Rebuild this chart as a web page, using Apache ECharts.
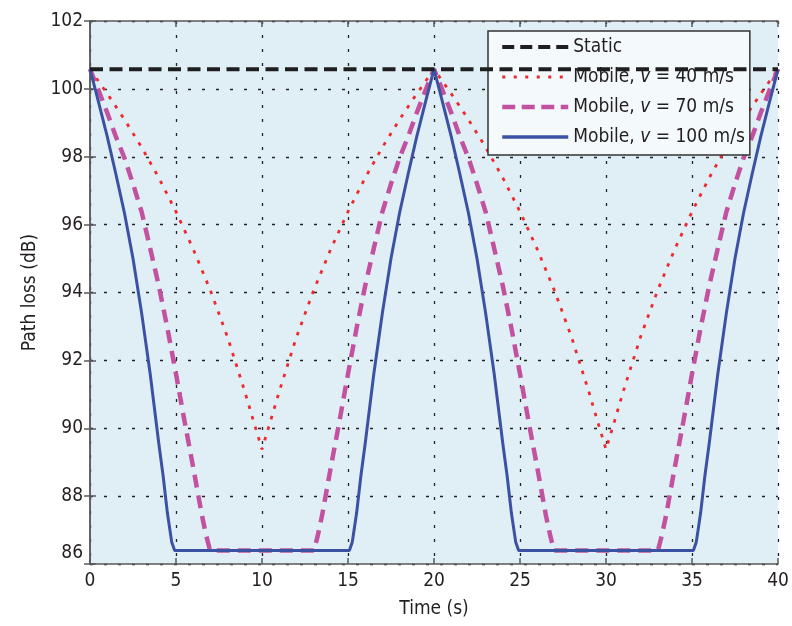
<!DOCTYPE html>
<html>
<head>
<meta charset="utf-8">
<script src="https://cdn.jsdelivr.net/npm/echarts@6/dist/echarts.min.js"></script>
<style>
html,body{margin:0;padding:0;background:#fff;}
#c{width:792px;height:626px;}
</style>
</head>
<body>
<div id="c"></div>
<script>
// ---- data ----
const xTicks = [0, 5, 10, 15, 20, 25, 30, 35, 40];
const yTicks = [86, 88, 90, 92, 94, 96, 98, 100, 102];

const staticT = [0, 40];
const staticV = [100.58, 100.58];

const redT = [0,1,2,3,4,5,6,7,8,9,9.5,10,10.5,11,12,13,14,15,16,17,18,19,20,
              21,22,23,24,25,26,27,28,29,29.5,30,30.5,31,32,33,34,35,36,37,38,39,40];
const redV = [100.58,99.86,99.1,98.28,97.38,96.38,95.28,94.06,92.68,91.08,90.22,89.38,90.22,91.08,92.68,94.06,95.28,96.38,97.38,98.28,99.1,99.86,100.58,
              99.86,99.1,98.28,97.38,96.38,95.28,94.06,92.68,91.08,90.22,89.38,90.22,91.08,92.68,94.06,95.28,96.38,97.38,98.28,99.1,99.86,100.58];

const magT = [0,0.5,1,1.5,2,2.5,3,3.5,4,4.5,5,5.5,6,6.5,6.75,6.98,
              13.02,13.25,13.5,14,14.5,15,15.5,16,16.5,17,17.5,18,18.5,19,19.5,20,
              20.5,21,21.5,22,22.5,23,23.5,24,24.5,25,25.5,26,26.5,26.75,26.98,
              33.02,33.25,33.5,34,34.5,35,35.5,36,36.5,37,37.5,38,38.5,39,39.5,40];
const magV = [100.58,99.95,99.3,98.6,97.97,97.2,96.38,95.3,94.2,92.95,91.6,90.2,88.85,87.45,86.85,86.4,
              86.4,86.85,87.45,88.85,90.2,91.6,92.95,94.2,95.3,96.38,97.2,97.97,98.6,99.3,99.95,100.58,
              99.95,99.3,98.6,97.97,97.2,96.38,95.3,94.2,92.95,91.6,90.2,88.85,87.45,86.85,86.4,
              86.4,86.85,87.45,88.85,90.2,91.6,92.95,94.2,95.3,96.38,97.2,97.97,98.6,99.3,99.95,100.58];

const blueT = [0,0.5,1,1.5,2,2.5,3,3.5,4,4.25,4.5,4.75,4.92,
               15.08,15.25,15.5,15.75,16,16.5,17,17.5,18,18.5,19,19.5,20,
               20.5,21,21.5,22,22.5,23,23.5,24,24.25,24.5,24.75,24.92,
               35.08,35.25,35.5,35.75,36,36.5,37,37.5,38,38.5,39,39.5,40];
const blueV = [100.58,99.6,98.6,97.5,96.35,95.0,93.4,91.6,89.55,88.6,87.5,86.65,86.4,
               86.4,86.65,87.5,88.6,89.55,91.6,93.4,95.0,96.35,97.5,98.6,99.6,100.58,
               99.6,98.6,97.5,96.35,95.0,93.4,91.6,89.55,88.6,87.5,86.65,86.4,
               86.4,86.65,87.5,88.6,89.55,91.6,93.4,95.0,96.35,97.5,98.6,99.6,100.58];

const seriesNames = ['Static', 'Mobile40', 'Mobile70', 'Mobile100'];
const legendSpeeds = {Mobile40: '40', Mobile70: '70', Mobile100: '100'};

// ---- styles ----
const FONT = "'Liberation Sans Narrow', 'DejaVu Sans Condensed', 'Liberation Sans', sans-serif";
const TXT = '#231f20';
const zip = (a, b) => a.map((t, i) => [t, b[i]]);
const styles = {
  Static:    {color: '#1e1e1e', width: 4,   type: [13, 6.5]},
  Mobile40:  {color: '#ee2a2e', width: 2.8, type: [3.5, 7.5]},
  Mobile70:  {color: '#c2519f', width: 4.5, type: [13, 8]},
  Mobile100: {color: '#3b52a3', width: 3,   type: 'solid'}
};
const legendStyles = {
  Static:    {color: '#1e1e1e', width: 4,   type: [12, 6]},
  Mobile40:  {color: '#ee2a2e', width: 3,   type: [3, 8.5]},
  Mobile70:  {color: '#c2519f', width: 4.5, type: [13, 6.5]},
  Mobile100: {color: '#3b52a3', width: 3.5, type: 'solid'}
};
const zs = {Static: 5, Mobile40: 2, Mobile70: 3, Mobile100: 4};
const seriesData = {
  Static: zip(staticT, staticV), Mobile40: zip(redT, redV),
  Mobile70: zip(magT, magV), Mobile100: zip(blueT, blueV)
};

const axisLineStyle = {color: '#5a5a5a', width: 1.5};
const gridLine = {show: true, lineStyle: {color: '#222', width: 1.3, type: [3, 11]}};

const chart = echarts.init(document.getElementById('c'), null, {renderer: 'canvas'});
chart.setOption({
  backgroundColor: '#ffffff',
  animation: false,
  textStyle: {fontFamily: FONT},
  grid: {left: 90, top: 21, right: 14, bottom: 62, show: true,
         backgroundColor: '#e0eef6', borderWidth: 0},
  legend: {
    orient: 'vertical', left: 488, top: 31,
    data: seriesNames.map(n => ({name: n, lineStyle: legendStyles[n], itemStyle: {opacity: 0}})),
    itemWidth: 66, itemHeight: 14, itemGap: 6,
    padding: [4, 5, 6, 12],
    backgroundColor: '#f4f9fc', borderColor: '#333', borderWidth: 1.5,
    itemStyle: {opacity: 0},
    formatter: function (n) {
      if (n === 'Static') return '{n|Static}';
      return '{n|Mobile, }{i|v}{n| = ' + legendSpeeds[n] + ' m/s}';
    },
    textStyle: {
      fontSize: 19, color: TXT, fontFamily: FONT, lineHeight: 24,
      rich: {
        n: {fontSize: 19, color: TXT, fontFamily: FONT, lineHeight: 24},
        i: {fontSize: 19, color: TXT, fontFamily: FONT, fontStyle: 'italic', lineHeight: 24}
      }
    }
  },
  xAxis: [{
    type: 'value', min: 0, max: 40, interval: 5, position: 'bottom',
    name: 'Time (s)', nameLocation: 'middle', nameGap: 36,
    nameTextStyle: {fontSize: 19, color: TXT, fontFamily: FONT},
    axisLine: {show: true, lineStyle: axisLineStyle},
    axisTick: {show: true, inside: true, length: 6, lineStyle: axisLineStyle},
    axisLabel: {fontSize: 19, color: TXT, fontFamily: FONT, margin: 8,
                formatter: v => xTicks.includes(v) ? String(v) : ''},
    splitLine: gridLine
  }, {
    type: 'value', min: 0, max: 40, interval: 5, position: 'top',
    axisLine: {show: true, lineStyle: axisLineStyle},
    axisTick: {show: true, inside: true, length: 6, lineStyle: axisLineStyle},
    axisLabel: {show: false}, splitLine: {show: false}
  }],
  yAxis: [{
    type: 'value', min: 86, max: 102, interval: 2, position: 'left',
    name: 'Path loss (dB)', nameLocation: 'middle', nameGap: 50, nameRotate: 90,
    nameTextStyle: {fontSize: 19, color: TXT, fontFamily: FONT},
    axisLine: {show: true, lineStyle: axisLineStyle},
    axisTick: {show: true, inside: true, length: 6, lineStyle: axisLineStyle},
    axisLabel: {fontSize: 19, color: TXT, fontFamily: FONT, margin: 7,
                formatter: v => v === yTicks[0] ? '{low|' + v + '}' : String(v),
                rich: {low: {fontSize: 19, color: TXT, fontFamily: FONT, padding: [0, 0, 22, 0]}}},
    splitLine: gridLine
  }, {
    type: 'value', min: 86, max: 102, interval: 2, position: 'right',
    axisLine: {show: true, lineStyle: axisLineStyle},
    axisTick: {show: true, inside: true, length: 6, lineStyle: axisLineStyle},
    axisLabel: {show: false}, splitLine: {show: false}
  }],
  series: seriesNames.map(n => ({
    name: n, type: 'line', data: seriesData[n], symbol: 'none', z: zs[n],
    lineStyle: styles[n], itemStyle: {color: styles[n].color}
  }))
});
</script>
</body>
</html>
